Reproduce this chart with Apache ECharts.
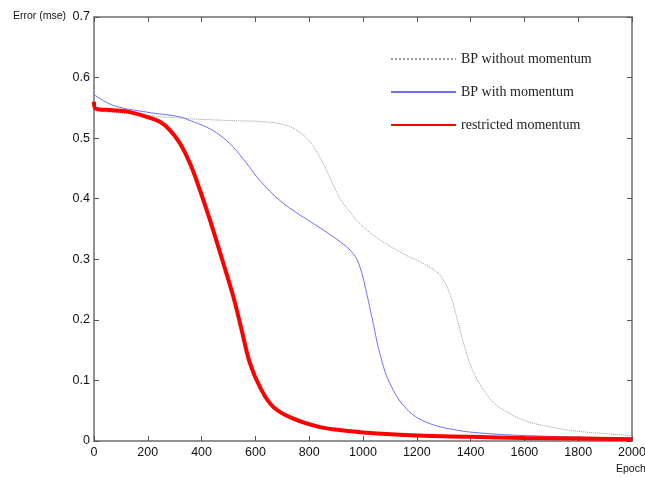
<!DOCTYPE html>
<html>
<head>
<meta charset="utf-8">
<script src="https://cdn.jsdelivr.net/npm/echarts@6/dist/echarts.min.js"></script>
<style>
  html, body { margin: 0; padding: 0; background: #fff; }
  #chart { width: 645px; height: 477px; }
</style>
</head>
<body>
<div id="chart"></div>
<script>
// values
const noMomEpoch = [0, 134, 320, 506, 630, 716, 766, 803, 840, 877, 915, 952, 977, 1038, 1138, 1236, 1286, 1323, 1348, 1373, 1410, 1472, 1520, 1600, 1700, 1800, 2000]
const noMomErr = [0.545, 0.540, 0.533, 0.529, 0.527, 0.521, 0.509, 0.494, 0.468, 0.435, 0.400, 0.378, 0.364, 0.340, 0.312, 0.290, 0.274, 0.243, 0.205, 0.163, 0.114, 0.070, 0.052, 0.034, 0.023, 0.016, 0.009]

const momEpoch = [0, 72, 196, 320, 357, 419, 468, 518, 568, 617, 691, 766, 816, 915, 964, 989, 1014, 1038, 1063, 1100, 1162, 1236, 1348, 1472, 1600, 1800, 2000]
const momErr = [0.572, 0.554, 0.543, 0.535, 0.529, 0.518, 0.505, 0.485, 0.458, 0.430, 0.397, 0.373, 0.359, 0.329, 0.309, 0.287, 0.243, 0.194, 0.144, 0.095, 0.053, 0.031, 0.018, 0.012, 0.009, 0.0065, 0.005]

const restrEpoch = [0, 5, 72, 134, 196, 245, 283, 320, 357, 394, 431, 443, 481, 518, 549, 580, 617, 667, 741, 840, 915, 1000, 1200, 1400, 1600, 1800, 2000]
const restrErr = [0.560, 0.549, 0.546, 0.543, 0.535, 0.527, 0.513, 0.491, 0.458, 0.414, 0.365, 0.348, 0.293, 0.238, 0.183, 0.128, 0.089, 0.056, 0.037, 0.023, 0.018, 0.014, 0.009, 0.007, 0.005, 0.004, 0.003]

const seriesNames = ["BP without momentum", "BP with momentum", "restricted momentum"]

const pairs = (xs, ys) => xs.map((x, i) => [x, ys[i]])

const axisGray = "#8a8a8a"
const labelFont = { fontFamily: "Liberation Sans", fontSize: 12.5, color: "#111" }

const chart = echarts.init(document.getElementById("chart"))

chart.setOption({
  animation: false,
  backgroundColor: "#fff",
  grid: {
    left: 94, right: 13, top: 17, bottom: 36,
    outerBoundsMode: "none",
    show: true, borderColor: axisGray, borderWidth: 1.5
  },
  legend: {
    orient: "vertical",
    left: 385,
    top: 47,
    itemWidth: 65,
    itemHeight: 14,
    itemGap: 19,
    data: seriesNames,
    itemStyle: { opacity: 0 },
    textStyle: { fontFamily: "Liberation Serif", fontSize: 14, color: "#222" }
  },
  graphic: [
    { type: "text", left: 13, top: 11, style: { text: "Error (mse)", font: "10.5px Liberation Sans", fill: "#111" } },
    { type: "text", left: 616, top: 464, style: { text: "Epoch", font: "10.5px Liberation Sans", fill: "#111" } }
  ],
  xAxis: [
    {
      type: "value", min: 0, max: 2000, interval: 200,
      axisLine: { lineStyle: { color: axisGray, width: 1.5 } },
      axisTick: { inside: true, length: 5, lineStyle: { color: "#555" } },
      axisLabel: Object.assign({ margin: 5, formatter: v => String(v) }, labelFont),
      splitLine: { show: false }
    },
    {
      type: "value", position: "top", min: 0, max: 2000, interval: 200,
      axisLine: { show: true, onZero: false, lineStyle: { color: axisGray, width: 1.5 } },
      axisTick: { show: true, inside: true, length: 5, lineStyle: { color: "#555" } },
      axisLabel: { show: false },
      splitLine: { show: false }
    }
  ],
  yAxis: [
    {
      type: "value", min: 0, max: 0.7, interval: 0.1,
      axisLine: { show: true, lineStyle: { color: axisGray, width: 1.5 } },
      axisTick: { show: true, inside: true, length: 5, lineStyle: { color: "#555" } },
      axisLabel: Object.assign({ margin: 4 }, labelFont),
      splitLine: { show: false }
    },
    {
      type: "value", position: "right", min: 0, max: 0.7, interval: 0.1,
      axisLine: { show: true, onZero: false, lineStyle: { color: axisGray, width: 1.5 } },
      axisTick: { show: true, inside: true, length: 5, lineStyle: { color: "#555" } },
      axisLabel: { show: false },
      splitLine: { show: false }
    }
  ],
  series: [
    {
      name: seriesNames[0],
      type: "line",
      data: pairs(noMomEpoch, noMomErr),
      symbol: "none",
      smooth: 0.4,
      lineStyle: { color: "#9a9a9a", width: 1, type: "dotted" },
      itemStyle: { color: "#9a9a9a" }
    },
    {
      name: seriesNames[1],
      type: "line",
      data: pairs(momEpoch, momErr),
      symbol: "none",
      smooth: 0.4,
      lineStyle: { color: "#6e6eff", width: 1 },
      itemStyle: { color: "#6e6eff" }
    },
    {
      name: seriesNames[2],
      type: "line",
      data: pairs(restrEpoch, restrErr),
      symbol: "none",
      smooth: 0.4,
      lineStyle: { color: "#ff0000", width: 4 },
      itemStyle: { color: "#ff0000" }
    },
    {
      // invisible series so the top and right axes get drawn with their ticks
      name: "frame",
      type: "line",
      xAxisIndex: 1,
      yAxisIndex: 1,
      data: [[0, 0]],
      symbol: "none",
      lineStyle: { opacity: 0 },
      silent: true
    }
  ]
})
</script>
</body>
</html>
